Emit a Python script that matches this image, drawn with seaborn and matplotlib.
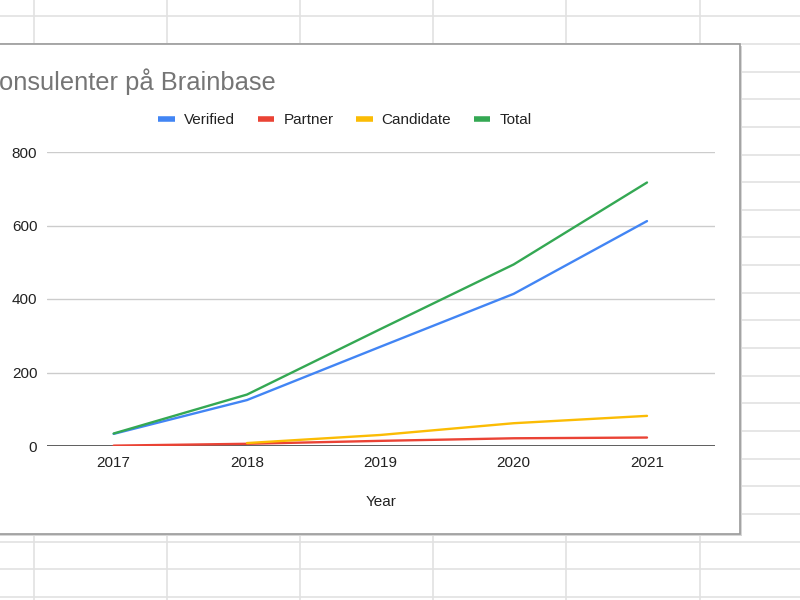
import numpy as np
import pandas as pd
import matplotlib
matplotlib.use("Agg")
import matplotlib.pyplot as plt
from matplotlib.lines import Line2D
from matplotlib.patches import Rectangle
import seaborn as sns

# ---- data ----
years = [2017, 2018, 2019, 2020, 2021]
verified = [33, 125, 270, 414, 612]
partner = [1, 6, 14, 21, 23]
candidate = [np.nan, 8, 30, 62, 82]
total = [34, 140, 318, 494, 717]
series_names = ["Verified", "Partner", "Candidate", "Total"]
series_colors = ["#4285F4", "#EA4335", "#FBBC04", "#34A853"]
title_text = "Konsulenter på Brainbase"
y_ticks = [0, 200, 400, 600, 800]

df = pd.DataFrame({
    "Year": years * 4,
    "Value": verified + partner + candidate + total,
    "Series": sum([[n] * len(years) for n in series_names], []),
})

sns.set_theme(style="white")
plt.rcParams["font.family"] = ["Liberation Sans", "DejaVu Sans"]

W, H = 800, 600
fig = plt.figure(figsize=(8, 6), dpi=100)
fig.patch.set_facecolor("white")

def fx(px):
    return px / W

def fy(py):
    return 1 - py / H

# spreadsheet grid in background
for k in range(23):
    y = 16.3 + 27.65 * k
    fig.add_artist(Line2D([0, 1], [fy(y), fy(y)], transform=fig.transFigure,
                          color="#e2e2e2", lw=1.2, zorder=-3))
for k in range(6):
    x = 33.5 + 133.2 * k
    fig.add_artist(Line2D([fx(x), fx(x)], [0, 1], transform=fig.transFigure,
                          color="#e2e2e2", lw=1.2, zorder=-3))

# chart panel
cx0, cy0, cx1, cy1 = -10, 44, 740, 534
fig.add_artist(Rectangle((fx(cx0 + 1.5), fy(cy1 + 1.5)), fx(cx1 - cx0), fy(cy0) - fy(cy1),
                         transform=fig.transFigure, facecolor="#d6d6d6",
                         edgecolor="none", zorder=-2))
fig.add_artist(Rectangle((fx(cx0), fy(cy1)), fx(cx1 - cx0), fy(cy0) - fy(cy1),
                         transform=fig.transFigure, facecolor="white",
                         edgecolor="#9a9a9a", lw=1.2, zorder=-1))

# plot area
ax = fig.add_axes([fx(47), fy(446), fx(715 - 47), fy(152) - fy(446)])
ax.set_facecolor("none")

sns.lineplot(data=df, x="Year", y="Value", hue="Series", hue_order=series_names,
             palette=series_colors, linewidth=1.7, legend=False, ax=ax,
             estimator=None, sort=True)

ax.set_xlim(2016.5, 2021.51)
ax.set_ylim(0, 800)
ax.set_yticks(y_ticks)
ax.set_xticks(years)
ax.set_xticklabels([str(y) for y in years])
for s in ax.spines.values():
    s.set_visible(False)
for t in y_ticks[1:]:
    ax.axhline(t, color="#cccccc", lw=1, zorder=0)
ax.axhline(0, color="#333333", lw=1.1, zorder=0.5)
ax.tick_params(axis="both", length=0, labelsize=11, colors="#222222")
ax.tick_params(axis="x", pad=7)
ax.tick_params(axis="y", pad=7)
ax.set_ylabel("")
ax.set_xlabel("Year", fontsize=11, color="#222222", labelpad=18)

# title (cut at left edge like the screenshot)
fig.text(fx(-18.5), fy(82), title_text, fontsize=18.4, color="#757575",
         ha="left", va="center")

# legend
handles = [Line2D([0], [0], color=c, lw=4, solid_capstyle="butt") for c in series_colors]
fig.legend(handles, series_names, loc="center", bbox_to_anchor=(fx(345), fy(120)),
           ncol=4, frameon=False, fontsize=11, handlelength=1.1, handletextpad=0.6,
           columnspacing=1.45, labelcolor="#222222")

fig.savefig("out.png", dpi=100)
